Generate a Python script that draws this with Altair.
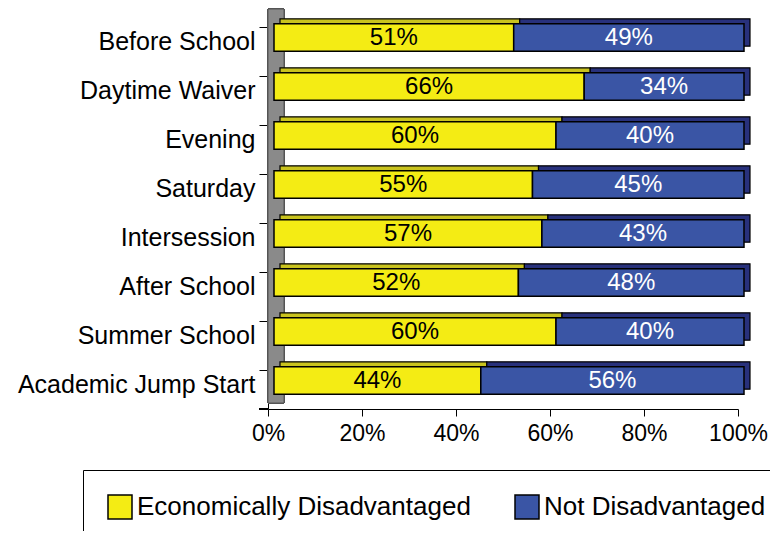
import altair as alt
import pandas as pd

categories = ["Before School", "Daytime Waiver", "Evening", "Saturday",
              "Intersession", "After School", "Summer School", "Academic Jump Start"]
econ = [51, 66, 60, 55, 57, 52, 60, 44]
notdis = [49, 34, 40, 45, 43, 48, 40, 56]
series = ["Economically Disadvantaged", "Not Disadvantaged"]
front_colors = ["#F4EC14", "#3A55A5"]
top_colors = ["#C9C31E", "#28317C"]
text_colors = ["black", "white"]
ticks = [0, 20, 40, 60, 80, 100]

rows = []
for c, e, n in zip(categories, econ, notdis):
    rows.append(dict(cat=c, series=series[0], start=0, end=e, label=f"{e}%",
                     mid=e / 2, tcolor=text_colors[0], topc=top_colors[0]))
    rows.append(dict(cat=c, series=series[1], start=e, end=e + n, label=f"{n}%",
                     mid=e + n / 2, tcolor=text_colors[1], topc=top_colors[1]))
df = pd.DataFrame(rows)

W, H = 470, 392
FONT = "Liberation Sans"

yscale = alt.Scale(domain=categories, paddingInner=0.44, paddingOuter=0.22)
yaxis = alt.Axis(title=None, bandPosition=0, tickSize=9,
                 labelPadding=4, labelFontSize=25, labelColor="black",
                 domainColor="black", tickColor="black", labelFont=FONT,
                 labelLimit=0)
xscale = alt.Scale(domain=[0, 100], nice=False)
xaxis = alt.Axis(title=None, values=ticks, labelExpr="datum.value + '%'",
                 tickSize=7, labelPadding=6, labelFontSize=23, labelColor="black",
                 labelFlush=False, labelBound=False,
                 domainColor="black", tickColor="black", grid=False, labelFont=FONT)

base = alt.Chart(df)

wall = alt.Chart(df).mark_rect(fill="#8A8A8A", stroke="#555555", strokeWidth=1).encode(
    x=alt.value(0), x2=alt.value(16), y=alt.value(-8), y2=alt.value(H - 6)
)
bottom_tick = alt.Chart(df).mark_rule(color="black").encode(
    x=alt.value(-9), x2=alt.value(0), y=alt.value(H)
)

back = base.mark_bar(xOffset=12, x2Offset=12, yOffset=-9, y2Offset=-9,
                     stroke="black", strokeWidth=1.2).encode(
    x=alt.X("start:Q", scale=xscale, axis=xaxis),
    x2="end:Q",
    y=alt.Y("cat:N", scale=yscale, axis=yaxis),
    fill=alt.Fill("topc:N", scale=None),
)

front = base.mark_bar(xOffset=6, x2Offset=6, yOffset=-4, y2Offset=-4,
                      stroke="black", strokeWidth=1.5).encode(
    x=alt.X("start:Q", scale=xscale, axis=xaxis),
    x2="end:Q",
    y=alt.Y("cat:N", scale=yscale, axis=yaxis),
    color=alt.Color("series:N", scale=alt.Scale(domain=series, range=front_colors),
                    legend=alt.Legend(title=None, orient="none", legendX=-185, legendY=453,
                                      direction="horizontal", symbolType="square",
                                      symbolSize=576, symbolStrokeColor="black",
                                      symbolStrokeWidth=1.5, symbolOpacity=1,
                                      labelFontSize=26, labelOffset=4, columnPadding=41,
                                      padding=24, strokeColor="black", labelColor="black",
                                      labelFont=FONT, labelLimit=0)),
)

labels = base.mark_text(fontSize=24, xOffset=6, yOffset=-4, font=FONT).encode(
    x=alt.X("mid:Q", scale=xscale),
    y=alt.Y("cat:N", scale=yscale),
    text="label:N",
    color=alt.Color("tcolor:N", scale=None),
)

chart = alt.layer(wall, bottom_tick, back, front, labels).properties(
    width=W, height=H,
    padding={"left": 260, "top": 9, "right": 32, "bottom": 122},
    autosize=alt.AutoSizeParams(type="none"),
).configure(font=FONT).configure_view(stroke=None)

chart.save("out.html", embed_options={"renderer": "svg", "actions": False})
